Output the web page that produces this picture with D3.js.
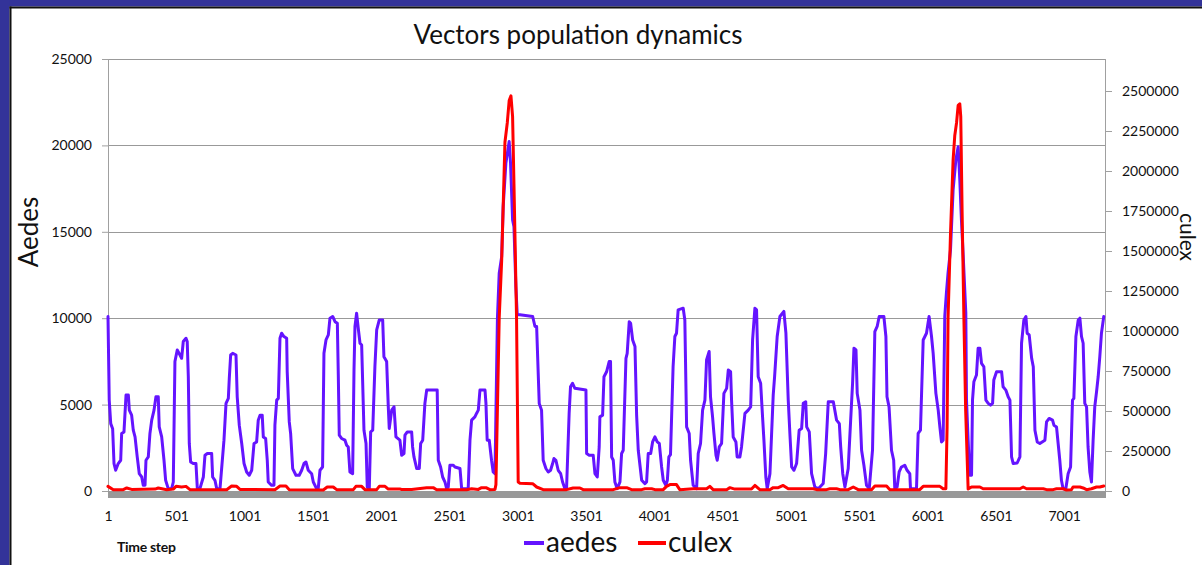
<!DOCTYPE html>
<html>
<head>
<meta charset="utf-8">
<script src="https://cdn.jsdelivr.net/npm/d3@7/dist/d3.min.js"></script>
<style>
  html, body { margin: 0; padding: 0; background: #fff; }
  svg { display: block; }
  text { font-family: Lato, "Open Sans", sans-serif; fill: #111; }
</style>
</head>
<body>
<svg id="chart" width="1202" height="565"></svg>
<script>
// ---------------- DATA ----------------
const title = "Vectors population dynamics";
const leftAxisLabel = "Aedes";
const rightAxisLabel = "culex";
const xAxisLabel = "Time step";
const seriesNames = ["aedes", "culex"];
const xTickLabels = [1, 501, 1001, 1501, 2001, 2501, 3001, 3501, 4001, 4501, 5001, 5501, 6001, 6501, 7001];
const leftTicks = [0, 5000, 10000, 15000, 20000, 25000];
const rightTicks = [0, 250000, 500000, 750000, 1000000, 1250000, 1500000, 1750000, 2000000, 2250000, 2500000];

const aedesSteps = [1,10,21,35,45,57,76,94,101,118,133,150,157,174,186,199,215,230,248,259,272,279,296,308,321,338,352,369,376,394,411,423,442,467,479,491,508,528,540,552,572,581,589,596,606,625,645,655,674,699,711,728,760,767,784,797,821,850,865,882,889,899,914,938,947,962,980,997,1016,1035,1053,1070,1089,1101,1114,1130,1138,1155,1167,1174,1199,1216,1223,1236,1248,1260,1272,1289,1309,1313,1328,1338,1353,1377,1401,1419,1436,1450,1467,1492,1504,1528,1540,1553,1572,1582,1597,1614,1626,1646,1663,1680,1687,1694,1711,1736,1748,1760,1772,1792,1802,1809,1821,1833,1846,1858,1875,1890,1899,1914,1924,1939,1955,1968,1987,2012,2021,2041,2053,2060,2078,2095,2109,2138,2151,2168,2175,2192,2224,2231,2241,2261,2280,2290,2305,2321,2334,2411,2419,2436,2451,2468,2480,2492,2504,2529,2541,2578,2590,2638,2651,2663,2687,2699,2712,2724,2761,2768,2777,2792,2809,2821,2834,2846,2852,2865,2883,2894,2914,2938,2948,2963,2973,2987,2997,3017,3110,3127,3139,3158,3175,3187,3207,3224,3241,3256,3266,3280,3297,3315,3329,3346,3358,3377,3387,3402,3419,3500,3505,3524,3553,3566,3583,3597,3602,3622,3632,3651,3670,3680,3688,3700,3712,3729,3749,3761,3773,3793,3802,3817,3827,3842,3859,3871,3883,3908,3932,3944,3956,3974,3988,4005,4022,4037,4054,4066,4085,4096,4107,4119,4138,4151,4163,4175,4212,4224,4237,4256,4266,4285,4310,4322,4339,4354,4371,4383,4402,4412,4427,4437,4452,4461,4476,4493,4510,4530,4542,4559,4566,4578,4598,4607,4627,4639,4664,4688,4706,4720,4737,4749,4761,4779,4793,4803,4817,4827,4847,4871,4881,4900,4920,4949,4964,4981,4993,5006,5023,5042,5061,5079,5091,5109,5116,5135,5152,5176,5201,5237,5255,5274,5311,5335,5355,5365,5380,5396,5420,5438,5452,5462,5477,5486,5506,5518,5535,5554,5574,5598,5615,5632,5647,5681,5696,5704,5719,5737,5753,5761,5778,5793,5810,5834,5851,5871,5876,5920,5932,5949,5969,5993,6012,6030,6042,6062,6079,6091,6103,6115,6127,6139,6151,6169,6188,6208,6225,6237,6249,6261,6281,6286,6298,6310,6323,6330,6340,6359,6371,6384,6396,6413,6428,6445,6462,6477,6486,6506,6543,6554,6574,6591,6604,6616,6628,6657,6677,6689,6706,6721,6730,6745,6763,6775,6787,6804,6823,6860,6872,6891,6916,6926,6945,6957,6969,6981,6993,7013,7030,7048,7062,7072,7087,7104,7116,7128,7140,7152,7165,7176,7189,7201,7213,7225,7238,7250,7262,7274,7291];
const aedesValues = [10100,5260,3900,3600,1590,1200,1590,1780,3330,3420,5550,5550,4680,4390,3520,3130,1970,1000,810,330,330,1780,1970,3330,4100,4680,5450,5450,3710,3130,1780,620,135,135,520,7490,8160,7870,7680,8650,8840,8650,6610,2750,1680,1590,1590,135,135,810,2070,2170,2170,810,620,135,135,2940,5070,5360,6520,7870,7970,7870,5450,3810,2750,1590,1100,910,1200,2750,2840,4100,4390,4390,3130,3040,1780,520,330,330,3810,5260,5360,8840,9130,8940,8840,6900,4000,3330,1300,910,910,1200,1590,1680,1200,1000,520,135,135,1200,1390,7970,8740,9030,10000,10100,9800,9710,6710,3230,3040,2940,2650,2550,1100,1000,7000,9520,10290,9420,8550,8450,3520,2750,230,135,3420,3520,7190,9320,9900,9900,7770,7490,4870,3620,4680,4870,3130,2940,2070,2170,3230,3420,3420,2550,1970,1300,1300,2750,2940,5070,5840,5840,1780,1390,810,520,135,230,1490,1490,1390,1300,135,135,2940,4100,4290,4490,4680,5840,5840,5070,2940,2940,1780,1100,1000,7000,10000,12600,13560,16450,18980,20220,18980,15680,15300,11820,10200,10200,10100,9520,9520,5070,4680,1780,1300,1100,1200,1590,1880,1780,1200,1000,520,135,135,4490,6030,6230,5940,5840,2170,2070,2070,1000,810,2550,4290,4390,6610,6900,7490,7490,1970,1780,520,135,520,2170,2360,7680,7970,9800,9710,8740,8360,4390,2360,620,430,520,2170,2170,2840,3130,2840,2750,1390,620,330,620,1970,2100,7190,8940,9130,10480,10580,9900,3710,3330,1780,330,135,2170,2750,4680,5260,7580,8070,5450,4290,3330,2070,1780,2550,2750,5650,5940,7000,6900,5260,3130,2840,1970,1970,2550,4490,4680,4870,8740,10580,10480,6610,6230,4290,2940,810,135,1000,5550,6610,8940,10100,10390,9130,5260,3330,1390,1200,1590,3520,3620,5070,5160,3710,3420,1000,230,135,430,2170,5160,5160,4100,3900,2550,1000,230,1300,4100,6230,8260,8160,5650,4680,2360,1490,330,135,2360,9230,9520,10100,10100,8940,5450,4870,2360,1780,135,230,1100,1390,1490,1200,1000,135,135,3330,3520,8740,9130,10100,8940,7970,5650,4680,3710,2840,2940,10100,11460,12620,13950,17420,19150,19920,18000,15680,13770,10300,5260,2940,910,910,5260,6320,6710,8260,8260,7390,7190,5260,5070,4970,5070,6420,6900,6900,6030,5840,5450,5260,1970,1590,1620,1970,8550,9900,10100,9130,9030,7680,7190,3520,2840,2750,2940,4000,4200,4100,3810,3710,2750,1780,620,135,135,1000,1390,5260,5360,8940,9900,10000,8940,8550,5070,4870,2550,1100,520,2940,4870,5740,6610,7770,9130,10100];

const culexSteps = [1,40,113,138,174,345,369,431,479,499,540,572,601,870,906,943,967,1223,1260,1304,1328,1577,1606,1650,1675,1797,1816,1858,1882,1968,1987,2029,2053,2138,2151,2224,2334,2382,2407,2627,2663,2712,2736,2768,2797,2834,2841,2865,2883,2894,2907,2924,2938,2951,2963,2973,2980,2992,3004,3017,3110,3139,3187,3358,3406,3456,3480,3700,3749,3798,3834,3908,3932,3981,4005,4066,4090,4115,4163,4187,4285,4383,4407,4431,4530,4554,4590,4712,4737,4773,4847,4871,4908,4944,4981,5164,5188,5261,5286,5335,5359,5420,5457,5493,5591,5615,5701,5725,5944,5969,6091,6115,6135,6144,6151,6169,6188,6200,6213,6225,6237,6244,6254,6267,6280,6298,6323,6384,6408,6677,6701,6726,6848,6872,6920,6945,6993,7018,7054,7066,7116,7140,7165,7201,7238,7262,7291];
const culexValues = [29000,8300,8300,19000,10000,12000,19000,8300,12000,29000,25000,29000,8300,8300,31000,29000,10000,8300,31000,31000,8300,6000,25000,25000,8300,8300,29000,29000,8300,8300,29000,29000,12000,12000,10000,10000,21000,21000,8300,8300,14000,10000,21000,21000,8300,10000,40000,1080000,1440000,1776000,2180000,2300000,2440000,2470000,2340000,1920000,1610000,1080000,56000,48000,46000,25000,8300,8300,19000,19000,8300,8300,21000,21000,8300,8300,14000,14000,8300,8300,29000,40000,40000,8300,14000,14000,29000,8300,8300,21000,12000,12000,35000,8300,8300,21000,21000,35000,14000,14000,8300,8300,14000,14000,8300,8300,25000,8300,8300,31000,31000,8300,8300,29000,29000,14000,14000,400000,1080000,1610000,2070000,2220000,2300000,2410000,2420000,2340000,1740000,1080000,500000,12000,25000,25000,14000,14000,25000,14000,14000,8300,8300,14000,14000,6000,8300,25000,25000,19000,8300,14000,25000,25000,31000];

// ---------------- CHART ----------------
const W = 1202, H = 565;
const svg = d3.select("#chart");
const plot = { left: 108, right: 1105, top: 59, bottom: 491 };

// frame
svg.append("rect").attr("x", 0).attr("y", 0).attr("width", W).attr("height", H).attr("fill", "#fff");
svg.append("rect").attr("x", 0).attr("y", 0).attr("width", W).attr("height", 6.5).attr("fill", "#333399");
svg.append("rect").attr("x", 0).attr("y", 0).attr("width", 9.5).attr("height", H).attr("fill", "#333399");
svg.append("rect").attr("x", 9.5).attr("y", 6.5).attr("width", W).attr("height", 2).attr("fill", "#111");
svg.append("rect").attr("x", 9.5).attr("y", 6.5).attr("width", 2).attr("height", H).attr("fill", "#111");

const x = d3.scaleLinear().domain([1, 7300]).range([plot.left, plot.right]);
const yL = d3.scaleLinear().domain([0, 25000]).range([plot.bottom, plot.top]);
const yR = d3.scaleLinear().domain([0, 2700000]).range([plot.bottom, plot.top]);

// gridlines
svg.append("g").selectAll("line").data(leftTicks.filter(d => d > 0)).join("line")
  .attr("x1", plot.left).attr("x2", plot.right)
  .attr("y1", d => Math.round(yL(d)) + 0.5).attr("y2", d => Math.round(yL(d)) + 0.5)
  .attr("stroke", "#999999").attr("stroke-width", 1);

// plot side borders
svg.append("line").attr("x1", plot.left + 0.5).attr("x2", plot.left + 0.5)
  .attr("y1", plot.top).attr("y2", plot.bottom).attr("stroke", "#a0a0a0");
svg.append("line").attr("x1", plot.right + 0.5).attr("x2", plot.right + 0.5)
  .attr("y1", plot.top).attr("y2", plot.bottom).attr("stroke", "#a0a0a0");

// floor band
svg.append("rect").attr("x", plot.left).attr("y", plot.bottom).attr("width", plot.right - plot.left + 1)
  .attr("height", 7).attr("fill", "#999999");

// left axis
const gL = svg.append("g").attr("transform", `translate(${plot.left},0)`)
  .call(d3.axisLeft(yL).tickValues(leftTicks).tickSize(6).tickPadding(10).tickFormat(d3.format("d")));
gL.select(".domain").remove();
gL.selectAll(".tick line").attr("stroke", "#a0a0a0");
gL.selectAll(".tick text").attr("font-family", "Lato, sans-serif").attr("font-size", 14).attr("fill", "#111");

// right axis
const gR = svg.append("g").attr("transform", `translate(${plot.right + 1},0)`)
  .call(d3.axisRight(yR).tickValues(rightTicks).tickSize(6).tickPadding(10).tickFormat(d3.format("d")));
gR.select(".domain").remove();
gR.selectAll(".tick line").attr("stroke", "#a0a0a0");
gR.selectAll(".tick text").attr("font-family", "Lato, sans-serif").attr("font-size", 14).attr("fill", "#111");

// bottom axis
const gX = svg.append("g").attr("transform", `translate(0,${plot.bottom + 14})`)
  .call(d3.axisBottom(x).tickValues(xTickLabels).tickSize(0).tickPadding(6).tickFormat(d3.format("d")));
gX.select(".domain").remove();
gX.selectAll(".tick text").attr("font-family", "Lato, sans-serif").attr("font-size", 14).attr("fill", "#111");

// series
const aedes = aedesSteps.map((t, i) => ({ t, v: aedesValues[i] }));
const culex = culexSteps.map((t, i) => ({ t, v: culexValues[i] }));
const colors = { aedes: "#6414ff", culex: "#ff0000" };

svg.append("path").datum(aedes)
  .attr("d", d3.line().x(d => x(d.t)).y(d => yL(d.v)))
  .attr("fill", "none").attr("stroke", colors.aedes).attr("stroke-width", 3)
  .attr("stroke-linejoin", "round").attr("stroke-linecap", "round");
svg.append("path").datum(culex)
  .attr("d", d3.line().x(d => x(d.t)).y(d => yR(d.v)))
  .attr("fill", "none").attr("stroke", colors.culex).attr("stroke-width", 3)
  .attr("stroke-linejoin", "round").attr("stroke-linecap", "round");

// title
svg.append("text").attr("x", 578).attr("y", 44).attr("text-anchor", "middle")
  .attr("font-size", 26).text(title);

// axis titles
svg.append("text").attr("transform", "translate(38,232) rotate(-90)").attr("text-anchor", "middle")
  .attr("font-size", 26).text(leftAxisLabel);
svg.append("text").attr("transform", "translate(1180,237) rotate(90)").attr("text-anchor", "middle")
  .attr("font-size", 21).text(rightAxisLabel);
svg.append("text").attr("x", 117).attr("y", 552).attr("font-size", 14).attr("font-weight", "bold")
  .attr("letter-spacing", -0.3).text(xAxisLabel);

// legend
const legend = [
  { name: seriesNames[0], color: colors.aedes, x1: 524, x2: 544, tx: 546 },
  { name: seriesNames[1], color: colors.culex, x1: 638, x2: 666, tx: 668 }
];
legend.forEach(l => {
  svg.append("line").attr("x1", l.x1).attr("x2", l.x2).attr("y1", 543).attr("y2", 543)
    .attr("stroke", l.color).attr("stroke-width", 4);
  svg.append("text").attr("x", l.tx).attr("y", 552).attr("font-size", 28).text(l.name);
});
</script>
</body>
</html>
